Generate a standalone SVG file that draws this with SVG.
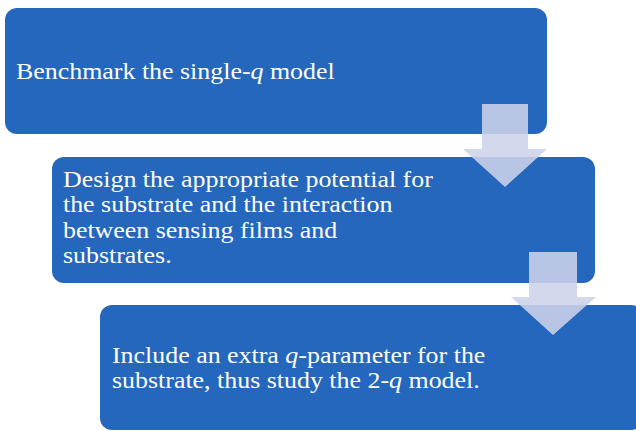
<svg xmlns="http://www.w3.org/2000/svg" width="636" height="431" viewBox="0 0 636 431">
  <style>
    .box { fill: #2467BD; }
    .label { font-family: "Liberation Serif", "Times New Roman", serif; font-size: 24px; fill: #FFFFFF; }
    .arrow { fill: #CDD3EA; fill-opacity: 0.88; }
  </style>
  <rect width="636" height="431" fill="#FFFFFF"/>
  <g id="step1">
    <rect class="box" x="5" y="8" width="542" height="126" rx="12"/>
    <text class="label" transform="scale(1.08 1)" x="14.8" y="79">Benchmark the single-<tspan font-style="italic">q</tspan> model</text>
  </g>
  <g id="step2">
    <rect class="box" x="52" y="157" width="543" height="126" rx="12"/>
    <text class="label" transform="scale(1.08 1)">
      <tspan x="58.3" y="187">Design the appropriate potential for</tspan>
      <tspan x="58.3" y="212">the substrate and the interaction</tspan>
      <tspan x="58.3" y="238">between sensing films and</tspan>
      <tspan x="58.3" y="263">substrates.</tspan>
    </text>
  </g>
  <g id="step3">
    <rect class="box" x="100" y="305" width="543" height="125" rx="12"/>
    <text class="label" transform="scale(1.08 1)">
      <tspan x="103.7" y="363">Include an extra <tspan font-style="italic">q</tspan>-parameter for the</tspan>
      <tspan x="103.7" y="388">substrate, thus study the 2-<tspan font-style="italic">q</tspan> model.</tspan>
    </text>
  </g>
  <g id="connectors">
    <polygon class="arrow" points="482,104 528,104 528,149 547,149 505,187 463,149 482,149"/>
    <polygon class="arrow" points="529,252 577,252 577,297 596,297 553,335 511,297 529,297"/>
  </g>
</svg>
